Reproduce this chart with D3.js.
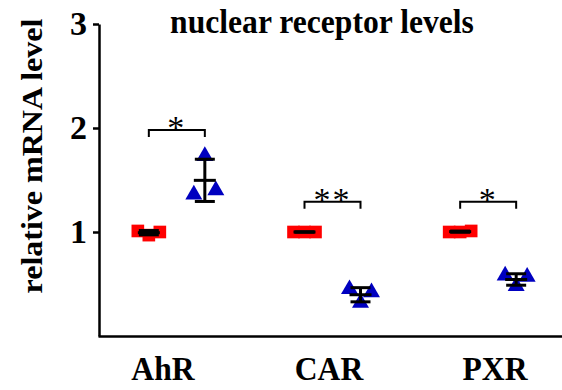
<!DOCTYPE html>
<html>
<head>
<meta charset="utf-8">
<script src="https://cdn.jsdelivr.net/npm/d3@7"></script>
<style>
  body { margin: 0; background: #fff; }
  text { font-family: "Liberation Serif", "Times New Roman", serif; }
</style>
</head>
<body>
<svg></svg>
<script>
const groups = ["AhR", "CAR", "PXR"];
const controlValues = [[1.01, 0.97, 1.0], [1.0, 1.0, 1.0], [1.0, 1.0, 1.01]];
const treatedValues = [[1.36, 1.73, 1.4], [0.45, 0.32, 0.42], [0.58, 0.48, 0.57]];
const bracketHeights = [1.98, 1.29, 1.29];
const stars = ["*", "**", "*"];
const yTicks = [1, 2, 3];

const width = 562;
const height = 390;
const jitter = [-11, 0, 11];

const svg = d3.select("svg").attr("width", width).attr("height", height);

const yScale = d3.scaleLinear().domain([0, 3]).range([336, 24]);
const xScale = d3.scaleBand().domain(groups).range([99, 566]);
const subScale = d3.scalePoint().domain(["control", "treated"]).range([-28, 28]);
const labelScale = d3.scalePoint().domain(groups).range([163, 495]);

const cx = (g, s) => xScale(g) + xScale.bandwidth() / 2 + subScale(s);

// axes
const yAxis = d3.axisLeft(yScale)
  .tickValues(yTicks)
  .tickFormat(d3.format("d"))
  .tickSize(6)
  .tickSizeOuter(0)
  .tickPadding(6);
const yG = svg.append("g").attr("transform", "translate(99,0)").call(yAxis);
yG.selectAll("path, line").attr("stroke", "#000").attr("stroke-width", 2.5);
yG.selectAll("text")
  .attr("font-size", 34)
  .attr("font-weight", "bold")
  .attr("fill", "#000")
  .style("font-family", "Liberation Serif");

const xLine = d3.scaleLinear().domain([0, 1]).range([98, 562]);
const xG = svg.append("g").attr("transform", "translate(0,336)")
  .call(d3.axisBottom(xLine).tickValues([]).tickSizeOuter(0));
xG.select("path").attr("stroke", "#000").attr("stroke-width", 2.5);

// group labels
svg.selectAll(".glabel")
  .data(groups)
  .enter()
  .append("text")
  .attr("class", "glabel")
  .attr("transform", (d) => `translate(${labelScale(d)},380) scale(0.93,1)`)
  .attr("text-anchor", "middle")
  .attr("font-size", 34)
  .attr("font-weight", "bold")
  .text((d) => d);

// title
svg.append("text")
  .attr("transform", "translate(322,33) scale(0.93,1)")
  .attr("text-anchor", "middle")
  .attr("font-size", 34)
  .attr("font-weight", "bold")
  .text("nuclear receptor levels");

// y label
svg.append("text")
  .attr("transform", "translate(42,156) scale(0.95,1) rotate(-90)")
  .attr("text-anchor", "middle")
  .attr("font-size", 32)
  .attr("font-weight", "bold")
  .text("relative mRNA level");

// points
const points = [];
groups.forEach((g, i) => {
  controlValues[i].forEach((v, j) => points.push({ g, s: "control", v, j }));
  treatedValues[i].forEach((v, j) => points.push({ g, s: "treated", v, j }));
});

const square = d3.symbol().type(d3.symbolSquare).size(160);
const triangle = d3.symbol().type(d3.symbolTriangle).size(125);

svg.selectAll(".pt")
  .data(points)
  .enter()
  .append("path")
  .attr("class", "pt")
  .attr("d", (d) => (d.s === "control" ? square() : triangle()))
  .attr("fill", (d) => (d.s === "control" ? "#ff0000" : "#0000c0"))
  .attr("transform", (d) => `translate(${cx(d.g, d.s) + jitter[d.j]},${yScale(d.v)})`);

// mean +- SD
const stats = [];
groups.forEach((g, i) => {
  [["control", controlValues[i]], ["treated", treatedValues[i]]].forEach(([s, vals]) => {
    stats.push({ g, s, mean: d3.mean(vals), sd: d3.deviation(vals) });
  });
});

const eb = svg.append("g").attr("stroke", "#000").attr("stroke-width", 3);
stats.forEach((d) => {
  const x = cx(d.g, d.s);
  eb.append("line").attr("x1", x).attr("x2", x)
    .attr("y1", yScale(d.mean - d.sd)).attr("y2", yScale(d.mean + d.sd));
  [d.mean - d.sd, d.mean + d.sd].forEach((v) => {
    eb.append("line").attr("x1", x - 10).attr("x2", x + 10)
      .attr("y1", yScale(v)).attr("y2", yScale(v));
  });
  eb.append("line").attr("x1", x - 11).attr("x2", x + 11)
    .attr("y1", yScale(d.mean)).attr("y2", yScale(d.mean));
});

// significance brackets
groups.forEach((g, i) => {
  const x0 = cx(g, "control");
  const x1 = cx(g, "treated");
  const y = yScale(bracketHeights[i]);
  svg.append("path")
    .attr("d", `M${x0},${y + 7}V${y}H${x1}V${y + 7}`)
    .attr("fill", "none")
    .attr("stroke", "#000")
    .attr("stroke-width", 2);
  svg.append("text")
    .attr("x", (x0 + x1) / 2)
    .attr("y", y + 9)
    .attr("text-anchor", "middle")
    .attr("font-size", 34)
    .attr("letter-spacing", 2)
    .text(stars[i]);
});
</script>
</body>
</html>
